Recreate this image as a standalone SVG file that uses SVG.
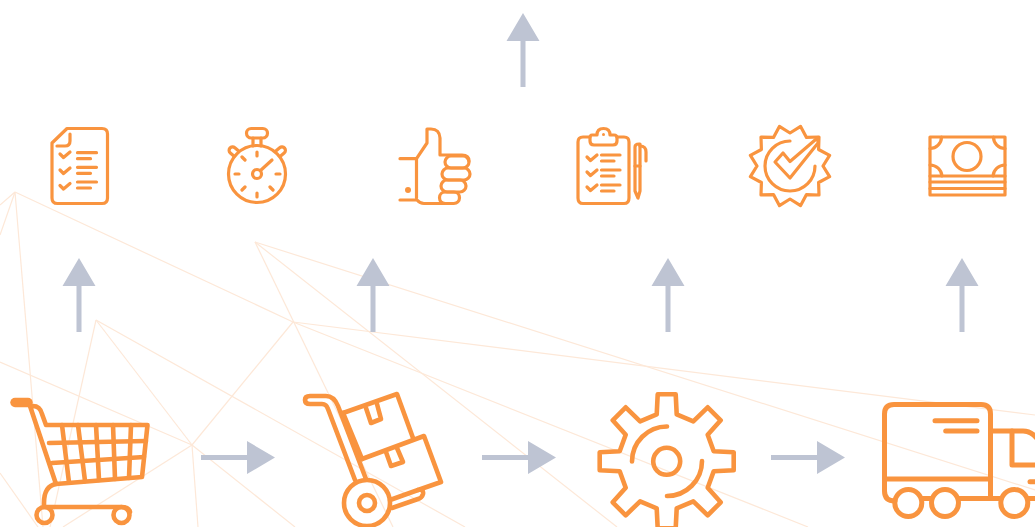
<svg xmlns="http://www.w3.org/2000/svg" width="1035" height="527" viewBox="0 0 1035 527">
<style>
.bg{fill:#fff}
.mesh line{stroke:#FDE8D8;stroke-width:1.2}
.ar{fill:#BEC4D3}
.ic{fill:none;stroke:#F9943F;stroke-width:3.2;stroke-linecap:round;stroke-linejoin:round}
.big{stroke-width:4.6}
.dot{fill:#F9943F;stroke:none}
</style>
<rect class="bg" width="1035" height="527"/>
<g id="mesh" class="mesh">
<line x1="15" y1="192" x2="293" y2="322"/>
<line x1="15" y1="192" x2="0" y2="205"/>
<line x1="15" y1="192" x2="0" y2="235"/>
<line x1="15" y1="192" x2="43" y2="527"/>
<line x1="0" y1="362" x2="192" y2="445"/>
<line x1="0" y1="473" x2="38" y2="527"/>
<line x1="96" y1="320" x2="192" y2="445"/>
<line x1="96" y1="320" x2="50" y2="527"/>
<line x1="96" y1="320" x2="465" y2="527"/>
<line x1="255" y1="242" x2="1035" y2="490"/>
<line x1="255" y1="242" x2="393" y2="527"/>
<line x1="255" y1="242" x2="617" y2="527"/>
<line x1="293" y1="322" x2="1035" y2="415"/>
<line x1="293" y1="322" x2="192" y2="445"/>
<line x1="293" y1="322" x2="808" y2="527"/>
<line x1="192" y1="445" x2="63" y2="527"/>
<line x1="192" y1="445" x2="198" y2="527"/>
<line x1="192" y1="445" x2="295" y2="527"/>
</g>
<g id="connectors">
<path class="ar" d="M523 13L539.500 41H525.500V87H520.500V41H506.500Z"/>
<path class="ar" d="M79 258L95.500 286H81.500V332H76.500V286H62.500Z"/>
<path class="ar" d="M373 258L389.500 286H375.500V332H370.500V286H356.500Z"/>
<path class="ar" d="M668 258L684.500 286H670.500V332H665.500V286H651.500Z"/>
<path class="ar" d="M962 258L978.500 286H964.500V332H959.500V286H945.500Z"/>
<path class="ar" d="M275 457.500L247 441V455H201V460H247V474Z"/>
<path class="ar" d="M556 457.500L528 441V455H482V460H528V474Z"/>
<path class="ar" d="M845 457.500L817 441V455H771V460H817V474Z"/>
</g>
<g id="checklist" class="ic">
<path d="M67 128.500H102Q107.500 128.500 107.500 134V198Q107.500 203.500 102 203.500H57.500Q52 203.500 52 198V143Z"/>
<path d="M70 134V141Q70 146 65 146H57"/>
<path d="M60 154L63.500 157.500L70 152M60 170L63.500 173.500L70 168M60 185.500L63.500 189L70 183.500"/>
<path d="M77.500 152.700H96.500M77.500 158.700H90.500M77.500 167.300H96.500M77.500 173.300H90.500M77.500 182H96.500M77.500 188H90.500"/>
</g>
<g id="stopwatch" class="ic">
<rect x="-6" y="-3.500" width="12" height="7" rx="3.500" transform="translate(234.500 152) rotate(40)"/>
<rect x="-6" y="-3.500" width="12" height="7" rx="3.500" transform="translate(280 152) rotate(-40)"/>
<circle cx="257" cy="174" r="28.500" style="fill:#fff"/>
<rect x="246.500" y="128.500" width="21" height="9.500" rx="4.700"/>
<path d="M253 138V146M261 138V146"/>
<path d="M257 152V156M257 193V197M235 174H239M276 174H280M242 157L245 160M242 190L245 187M270 187L273 190"/>
<circle cx="257" cy="174" r="4.500"/>
<path d="M260.500 170.500L272 160"/>
</g>
<g id="thumb" class="ic">
<path d="M400 158.700H416.500L427 143V129H431Q439.500 129 440 138V155H462Q469 155 469 161"/>
<path d="M400 200H417Q420 203.500 424 203.500H452"/>
<path d="M416.500 158.700V198"/>
<rect x="445" y="156" width="24" height="12" rx="6"/>
<rect x="442" y="168" width="28" height="12" rx="6"/>
<rect x="441" y="180" width="25" height="12" rx="6"/>
<rect x="439.500" y="192" width="20" height="11.500" rx="5.700"/>
<circle class="dot" cx="408" cy="190" r="3"/>
</g>
<g id="clipboard" class="ic">
<path d="M590 137H583Q578 137 578 142V198Q578 203.500 583 203.500H624Q629 203.500 629 198V142Q629 137 624 137H617"/>
<path d="M597 135H592Q590 135 590 138V141Q590 145 594 145H613Q617 145 617 141V138Q617 135 614 135H610Q610 128.500 603.500 128.500Q597 128.500 597 135Z"/>
<circle class="dot" cx="603.500" cy="134.500" r="1.500"/>
<path d="M587 157L590.500 160.500L597 155M587 172L590.500 175.500L597 170M587 187L590.500 190.500L597 185"/>
<path d="M601.500 155H620M601.500 161H614M601.500 170H620M601.500 176H614M601.500 185H620M601.500 191H614"/>
<path d="M635 147Q635 144 639 144H640V191L638 198L635 191Z"/>
<path d="M635 166H640"/>
<path d="M640 146Q646 146 646 152V161"/>
</g>
<g id="badge" class="ic">
<path d="M823 166L829.600 176.600L818.600 182.500L819 195L806.500 194.600L800.600 205.600L790 199L779.400 205.600L773.500 194.600L761 195L761.400 182.500L750.400 176.600L757 166L750.400 155.400L761.400 149.500L761 137L773.500 137.400L779.400 126.400L790 133L800.600 126.400L806.500 137.400L819 137L818.600 149.500L829.600 155.400Z"/>
<path d="M790 141A25 25 0 1 0 815 166"/>
<path d="M775 162L783 153L790 161.500L818 137.500V143L790 178Z"/>
</g>
<g id="money" class="ic">
<rect x="930" y="137" width="75" height="58"/>
<circle cx="967" cy="156.500" r="14"/>
<path d="M941.500 137A11.500 11.500 0 0 1 930 148.500M993.500 137A11.500 11.500 0 0 0 1005 148.500M930 165A12 12 0 0 1 942 176M1005 165A12 12 0 0 0 993 176"/>
<path d="M930 176H1005M930 182H1005M930 188.500H1005"/>
</g>
<g id="cart" class="ic big">
<path d="M15 402.500H28" style="stroke-width:9.500"/>
<path d="M30 406H33Q40 406 42 414L46 425H147.500L142 477L56 484Z"/>
<path d="M62 425L69 482.500M78 425L85 481M96 425L99 480M113 425L115 479M131 425L129 478"/>
<path d="M49 443L146 441M52 463L144 457"/>
<path d="M56 484Q44 486 44 503V506M44 507H121Q129 507 130 512"/>
<circle cx="44.500" cy="515" r="8"/>
<circle cx="121.500" cy="515" r="8"/>
</g>
<g id="trolley" class="ic big">
<path d="M355 480L328 409Q326.500 404 322 404H310Q305 404 305 400Q305 396 310 396H326Q334 396 338 406L366 479"/>
<circle cx="367" cy="503" r="23"/>
<circle cx="367" cy="503" r="8"/>
<path d="M343 413L397 394L413 438"/>
<path d="M362 459L424 436L441 482L418 490Q424 489 423 494Q422 498 418 499L392 508"/>
<path d="M418 490L390 500"/>
<path d="M366 408L371 423L381 419L377 404"/>
<path d="M386 452L391 466L403 462L397 448"/>
<path d="M343 413L362 459"/>
</g>
<g id="gear" class="ic big">
<path transform="translate(666.700 461.300)" d="M-9 -67L9 -67L10 -47L26.600 -40L41 -54L54 -41L41 -26.500L47 -10L67 -9V9L47 10L41 26.500L54 41L41 54L26.600 40L10 47L9 67H-9L-10 47L-26.600 40L-41 54L-54 41L-41 26.500L-47 10L-67 9V-9L-47 -10L-41 -26.500L-54 -41L-41 -54L-26.600 -40L-10 -47Z"/>
<circle cx="666.700" cy="461.300" r="13.500"/>
<path d="M632 461.500A35 35 0 0 1 667 426.500M702 461A35 35 0 0 1 667 496"/>
</g>
<g id="truck" class="ic" style="stroke-width:5">
<path d="M895 501Q884.500 501 884.500 491V414Q884.500 404.500 894 404.500H981Q990.500 404.500 990.500 414V498"/>
<path d="M884.500 479H990.500"/>
<path d="M935 420.700H977M945.700 431H977"/>
<path d="M922 498.500H931M959 498.500H1000M1028 498.500H1040"/>
<circle cx="908.300" cy="503" r="13.500"/>
<circle cx="945" cy="503" r="13.500"/>
<circle cx="1014.300" cy="503" r="13.500"/>
<path d="M992 431H1023Q1032 431 1038 440"/>
<path d="M1012 431V465H1040"/>
<path d="M1030 481.700H1040"/>
</g>
</svg>
